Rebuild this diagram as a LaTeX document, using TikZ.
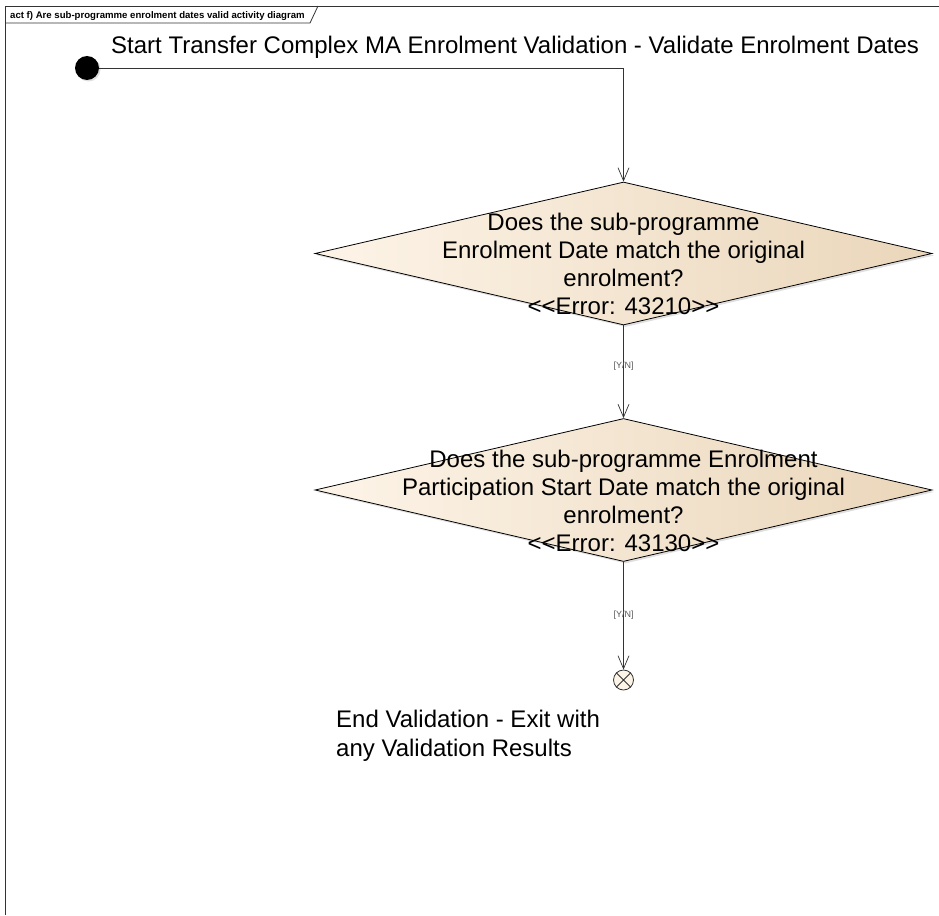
\documentclass[tikz,border=0pt]{standalone}
\usepackage{fontspec}
\setmainfont{Liberation Sans}
\usetikzlibrary{shapes.geometric,arrows.meta,shadows}
\definecolor{actcream}{HTML}{FDF4E8}
\definecolor{acttan}{HTML}{EAD6BA}
\definecolor{actline}{HTML}{333333}

\tikzset{
  decision/.style={shape=diamond, draw=black, line width=0.8pt, inner sep=0pt,
    minimum width=617pt, minimum height=143pt, left color=actcream, right color=acttan,
    drop shadow={shadow xshift=2pt, shadow yshift=-2pt, opacity=0.25}},
  dtext/.style={align=center, font=\fontsize{24}{28}\selectfont, inner sep=0pt},
  bigtext/.style={font=\fontsize{24}{29}\selectfont, inner sep=0pt},
  flow/.style={draw=actline, line width=0.7pt, -{Straight Barb[length=13pt,width=11pt]}},
  yn/.style={font=\fontsize{9}{10}\selectfont, text=black!65, inner sep=1pt},
}

\begin{document}
\begin{tikzpicture}[x=1pt,y=-1pt]
  \useasboundingbox (0,0) rectangle (939,915);
  % frame and name tab
  \draw[actline, line width=0.9pt] (5,915) -- (5,6) -- (939,6);
  \draw[actline, line width=0.8pt] (5,23) -- (310,23) -- (318,6);
  \node[anchor=base west, inner sep=0pt, font=\bfseries\fontsize{9.6}{11}\selectfont] (title) at (10,18.5)
    {act f) Are sub-programme enrolment dates valid activity diagram};

  % start
  \node[circle, fill=black, minimum size=24pt, inner sep=0pt,
    drop shadow={shadow xshift=1.5pt, shadow yshift=-1.5pt, opacity=0.25}] (start) at (87,68) {};
  \node[bigtext, anchor=base west] (startlbl) at (111,54)
    {Start Transfer Complex MA Enrolment Validation - Validate Enrolment Dates};

  % decisions
  \node[decision] (datematch) at (623.5,253.5) {};
  \node[dtext] (datetxt) at (623.5,264)
    {Does the sub-programme\\Enrolment Date match the original\\enrolment?\\<{}<Error: 43210>{}>};

  \node[decision] (partmatch) at (623.5,490) {};
  \node[dtext] (parttxt) at (623.5,500.5)
    {Does the sub-programme Enrolment\\Participation Start Date match the original\\enrolment?\\<{}<Error: 43130>{}>};

  % end
  \node[circle, draw=actline, fill=actcream, line width=0.8pt, minimum size=20pt, inner sep=0pt] (finish) at (623.5,680) {};
  \draw[actline, line width=0.8pt] (finish.north west) -- (finish.south east)
    (finish.north east) -- (finish.south west);
  \node[bigtext, anchor=north west, align=left] (finishlbl) at (336,710)
    {End Validation - Exit with\\any Validation Results};

  % flows
  \draw[flow] (start) -| (datematch);
  \draw[flow] (datematch) -- node[yn, pos=0.44] {[Y/N]} (partmatch);
  \draw[flow] (partmatch) -- node[yn, pos=0.49] {[Y/N]} (finish);
\end{tikzpicture}
\end{document}
